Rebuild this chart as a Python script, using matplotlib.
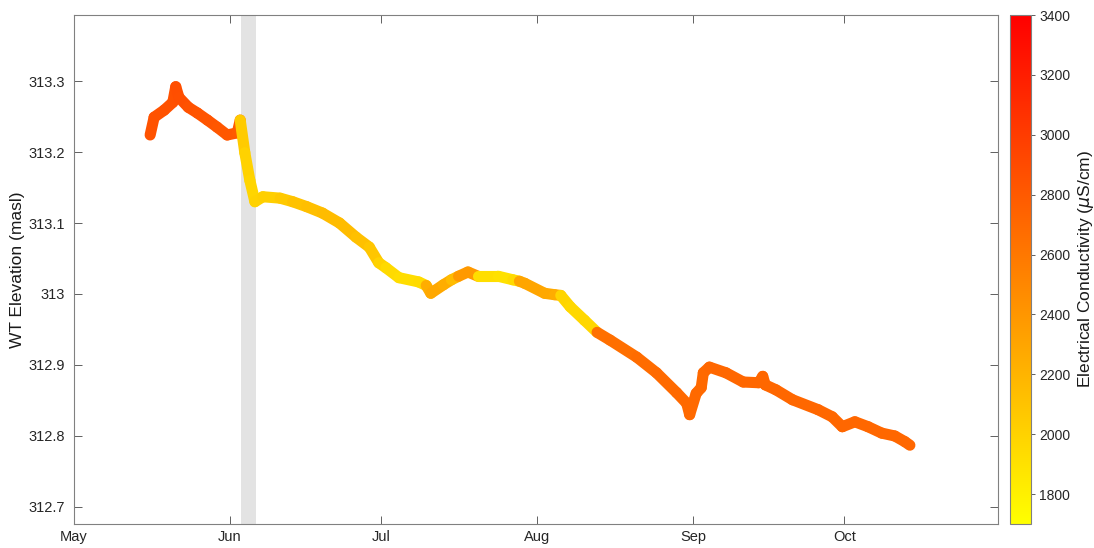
import matplotlib
matplotlib.use('Agg')
import matplotlib.pyplot as plt
import matplotlib.dates as mdates
from matplotlib.collections import LineCollection
from matplotlib.ticker import FuncFormatter
import numpy as np
import pandas as pd

plt.rcParams['font.family'] = ['Liberation Sans', 'DejaVu Sans']

# water table record: time, elevation (masl), electrical conductivity (uS/cm)
times = [
    '2019-05-16 05:00', '2019-05-17 00:00', '2019-05-19 00:00', '2019-05-20 17:00',
    '2019-05-21 07:00', '2019-05-21 22:00', '2019-05-23 19:00', '2019-05-25 14:00',
    '2019-05-27 14:00', '2019-05-29 12:00', '2019-05-31 12:00', '2019-06-02 12:00',
    '2019-06-03 02:00', '2019-06-04 00:00', '2019-06-05 00:00', '2019-06-06 00:00',
    '2019-06-07 14:00', '2019-06-11 00:00', '2019-06-13 12:00', '2019-06-16 07:00',
    '2019-06-19 10:00', '2019-06-22 19:00', '2019-06-26 02:00', '2019-06-28 17:00',
    '2019-06-30 14:00', '2019-07-02 00:00', '2019-07-04 14:00', '2019-07-08 12:00',
    '2019-07-10 00:00', '2019-07-10 22:00', '2019-07-13 10:00', '2019-07-15 00:00',
    '2019-07-16 10:00', '2019-07-18 07:00', '2019-07-20 07:00', '2019-07-24 07:00',
    '2019-07-27 05:00', '2019-07-28 12:00', '2019-07-29 14:00', '2019-08-02 12:00',
    '2019-08-04 12:00', '2019-08-05 17:00', '2019-08-07 14:00', '2019-08-10 10:00',
    '2019-08-12 22:00', '2019-08-15 12:00', '2019-08-20 19:00', '2019-08-24 17:00',
    '2019-08-28 17:00', '2019-08-30 17:00', '2019-08-31 07:00', '2019-09-01 14:00',
    '2019-09-02 14:00', '2019-09-03 00:00', '2019-09-04 05:00', '2019-09-07 12:00',
    '2019-09-10 22:00', '2019-09-14 00:00', '2019-09-14 19:00', '2019-09-15 07:00',
    '2019-09-17 10:00', '2019-09-20 17:00', '2019-09-25 19:00', '2019-09-28 14:00',
    '2019-09-30 14:00', '2019-10-03 02:00', '2019-10-05 17:00', '2019-10-08 10:00',
    '2019-10-11 00:00', '2019-10-13 00:00', '2019-10-14 00:00',
]
wt_elev = [
    313.224, 313.249, 313.259, 313.270,
    313.292, 313.277, 313.263, 313.255,
    313.245, 313.235, 313.224, 313.227,
    313.245, 313.199, 313.160, 313.130,
    313.137, 313.135, 313.130, 313.123,
    313.114, 313.100, 313.080, 313.066,
    313.044, 313.037, 313.023, 313.017,
    313.012, 313.001, 313.013, 313.020,
    313.025, 313.031, 313.025, 313.025,
    313.020, 313.018, 313.015, 313.001,
    312.999, 312.998, 312.982, 312.963,
    312.946, 312.935, 312.911, 312.889,
    312.861, 312.846, 312.830, 312.860,
    312.868, 312.889, 312.897, 312.889,
    312.876, 312.875, 312.884, 312.872,
    312.865, 312.851, 312.837, 312.827,
    312.813, 312.820, 312.813, 312.804,
    312.800, 312.792, 312.787,
]
ec = [
    2850, 2850, 2850, 2860,
    2880, 2870, 2850, 2840,
    2830, 2820, 2820, 2800,
    2050, 2000, 1980, 2000,
    2020, 2060, 2110, 2130,
    2150, 2150, 2120, 2080,
    2000, 1950, 1930, 1940,
    2250, 2280, 2250, 2150,
    2380, 2380, 1920, 1900,
    1950, 2300, 2300, 2280,
    2250, 1980, 1960, 1970,
    2650, 2660, 2680, 2690,
    2700, 2700, 2700, 2700,
    2700, 2700, 2710, 2710,
    2710, 2710, 2710, 2710,
    2710, 2710, 2710, 2710,
    2710, 2710, 2710, 2710,
    2710, 2710, 2710,
]

# logger gap
gap = ('2019-06-03 07:00', '2019-06-06 05:00')

ec_min, ec_max = 1700, 3400
y_ticks = [312.7, 312.8, 312.9, 313.0, 313.1, 313.2, 313.3]
cb_ticks = [1800, 2000, 2200, 2400, 2600, 2800, 3000, 3200, 3400]

t = mdates.date2num(pd.to_datetime(times))
z = np.array(wt_elev)
c = np.array(ec, dtype=float)

fig = plt.figure(figsize=(10.94, 5.48), dpi=100)
ax = fig.add_axes([0.0672, 0.0438, 0.9123 - 0.0672, 0.9288])
cax = fig.add_axes([0.9232, 0.0438, 0.0192, 0.9288])

ax.axvspan(pd.Timestamp(gap[0]), pd.Timestamp(gap[1]), color='#e3e3e3', lw=0, zorder=1)

pts = np.column_stack([t, z]).reshape(-1, 1, 2)
segs = np.concatenate([pts[:-1], pts[1:]], axis=1)
norm = plt.Normalize(ec_min, ec_max)
lc = LineCollection(segs, cmap='autumn_r', norm=norm, linewidths=8,
                    capstyle='round', joinstyle='round', zorder=3)
lc.set_array(c[:-1])
ax.add_collection(lc)

ax.set_xlim(pd.Timestamp('2019-05-01'), pd.Timestamp('2019-10-31 12:00'))
ax.set_ylim(312.676, 313.393)
ax.xaxis.set_major_locator(mdates.MonthLocator())
ax.xaxis.set_major_formatter(mdates.DateFormatter('%b'))
ax.set_yticks(y_ticks)
ax.yaxis.set_major_formatter(FuncFormatter(lambda v, p: f'{v:g}'))
ax.tick_params(direction='in', length=6, width=0.7, color='#606060',
               labelsize=10.5, labelcolor='#262626', top=True, right=True, pad=6)
ax.tick_params(axis='x', pad=4)
for s in ax.spines.values():
    s.set_color('#808080')
    s.set_linewidth(0.8)
ax.set_ylabel('WT Elevation (masl)', fontsize=12.5, color='#1a1a1a', labelpad=3)

cb = fig.colorbar(plt.cm.ScalarMappable(norm=norm, cmap='autumn_r'), cax=cax)
cb.set_ticks(cb_ticks)
cb.ax.tick_params(direction='out', length=3, width=0.7, color='#606060',
                  labelsize=10, labelcolor='#262626', pad=3)
cb.outline.set_edgecolor('#808080')
cb.outline.set_linewidth(0.8)
cb.set_label('Electrical Conductivity ($\\mu$S/cm)', fontsize=12.5, color='#1a1a1a', labelpad=4)

fig.savefig('out.png', dpi=100)
